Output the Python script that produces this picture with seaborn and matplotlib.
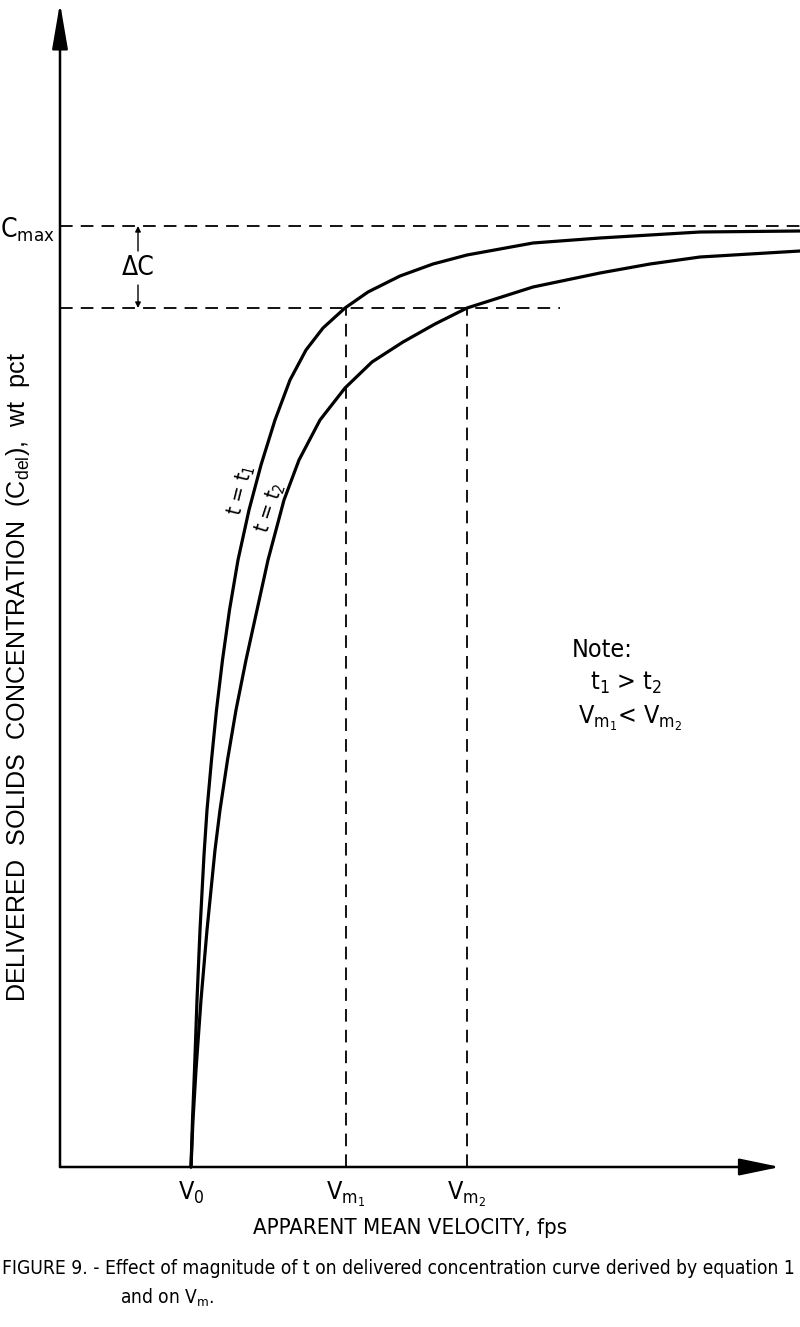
import matplotlib
matplotlib.use("Agg")
import matplotlib.pyplot as plt
from matplotlib import font_manager as fm
import seaborn as sns
import pandas as pd

# ---- data (arbitrary units) ----
curve1_x = [131,132.5,134.5,137,140,144,147,151.5,156.5,162.5,169.5,178,189,201,215,230,246,263,285,308,340,373,407,473,540,640,740]
curve1_y = [0,47,97,167,237,312,357,407,457,507,557,607,657,702,747,787,817,839,859,875,891,903,912,924,929,935,936]
curve2_x = [131,133,136,141,147,155,160,167.5,176,186,197,208,224,239,260,285,312,343,375,407,473,540,590,640,740]
curve2_y = [0,47,97,167,237,317,357,407,457,507,557,607,667,707,747,779,805,825,843,859,880,894,903,910,916]
c_max = 941
c_level = 859
v_ticks = [131, 286, 407]
v_labels = [r'V$_\mathregular{0}$', r'V$_\mathregular{m_1}$', r'V$_\mathregular{m_2}$']

sns.set_theme(style="white")

# pick a narrow face if one is installed
names = {f.name for f in fm.fontManager.ttflist}
cond_names = {f.name for f in fm.fontManager.ttflist
              if str(f.stretch) in ('condensed', 'semi-condensed', 'extra-condensed', 'ultra-condensed')
              or (isinstance(f.stretch, int) and f.stretch < 500)}
if 'Liberation Sans Narrow' in names:
    FAM = 'Liberation Sans Narrow'
elif cond_names:
    pref = [n for n in ('DejaVu Sans', 'Noto Sans', 'Roboto', 'Open Sans', 'Liberation Sans') if n in cond_names]
    FAM = pref[0] if pref else sorted(cond_names)[0]
    plt.rcParams['font.stretch'] = 'condensed'
else:
    FAM = 'Liberation Sans'
plt.rcParams['font.family'] = [FAM, 'DejaVu Sans']
plt.rcParams['mathtext.fontset'] = 'custom'
plt.rcParams['mathtext.rm'] = FAM
plt.rcParams['mathtext.it'] = FAM
plt.rcParams['text.color'] = 'black'

W, H = 800, 1327
fig = plt.figure(figsize=(W/100, H/100), dpi=100)
ax = fig.add_axes([60/W, (H-1167)/H, 740/W, 1167/H])
ax.set_xlim(0, 740)
ax.set_ylim(0, 1167)

df = pd.concat([
    pd.DataFrame({'v': curve1_x, 'c': curve1_y, 't': 't1'}),
    pd.DataFrame({'v': curve2_x, 'c': curve2_y, 't': 't2'}),
])
sns.lineplot(data=df, x='v', y='c', units='t', estimator=None, sort=False,
             color='black', lw=2.3, ax=ax, legend=False, clip_on=False,
             solid_joinstyle='round', solid_capstyle='round')

dash = dict(color='black', lw=1.3, linestyles=(0, (7, 4.5)), clip_on=False)
ax.hlines(c_max, 0, 740, **dash)
ax.hlines(c_level, 0, 500, **dash)
ax.vlines(v_ticks[1:], 0, c_level, **dash)

for s in ax.spines.values():
    s.set_visible(False)
ax.annotate('', xy=(0, 1164), xytext=(0, 0),
            arrowprops=dict(arrowstyle='-|>,head_length=1.4,head_width=0.24', lw=1.8, color='black',
                            mutation_scale=20, shrinkA=0, shrinkB=0), annotation_clip=False)
ax.annotate('', xy=(720, 0), xytext=(0, 0),
            arrowprops=dict(arrowstyle='-|>,head_length=1.25,head_width=0.26', lw=1.8, color='black',
                            mutation_scale=20, shrinkA=0, shrinkB=0), annotation_clip=False)

ax.set_xticks(v_ticks)
ax.set_xticklabels(v_labels, fontsize=18)
ax.set_yticks([c_max])
ax.set_yticklabels([r'C$_\mathregular{max}$'], fontsize=19)
ax.tick_params(length=0, pad=4, colors='black')
ax.tick_params(axis='x', pad=9)
ax.set_xlabel('')
ax.set_ylabel('')

# delta C
ax.text(78, 899, 'ΔC', fontsize=19, ha='center', va='center')
ax.annotate('', xy=(78, c_max), xytext=(78, 916),
            arrowprops=dict(arrowstyle='-|>', lw=1, color='black', mutation_scale=8, shrinkA=0, shrinkB=0))
ax.annotate('', xy=(78, c_level), xytext=(78, 882),
            arrowprops=dict(arrowstyle='-|>', lw=1, color='black', mutation_scale=8, shrinkA=0, shrinkB=0))

ax.text(181, 677, r't = t$_\mathregular{1}$', fontsize=15, rotation=76, ha='center', va='center')
ax.text(210, 659, r't = t$_\mathregular{2}$', fontsize=15, rotation=72, ha='center', va='center')

ax.text(512, 517, 'Note:', fontsize=18, ha='left', va='center')
ax.text(530, 484, r't$_\mathregular{1}$ > t$_\mathregular{2}$', fontsize=18, ha='left', va='center')
ax.text(518, 449, r'V$_\mathregular{m_1}$< V$_\mathregular{m_2}$', fontsize=18, ha='left', va='center')

ylab = fig.text(18/W, 1-677/H, 'DELIVERED  SOLIDS  CONCENTRATION  (C$_{\\mathregular{del}}$),  wt  pct',
                rotation=90, ha='center', va='center', fontsize=13,
                family=['Liberation Sans', 'DejaVu Sans'], fontstretch='normal')
xlab = fig.text(410/W, 1-1228/H, 'APPARENT MEAN VELOCITY, fps', fontsize=18, ha='center', va='center')
cap1 = fig.text(2/W, 1-1268/H, 'FIGURE 9. - Effect of magnitude of t on delivered concentration curve derived by equation 1',
                fontsize=15, ha='left', va='center')
cap2 = fig.text(120/W, 1-1298/H, r'and on V$_\mathregular{m}$.', fontsize=15, ha='left', va='center')

# scale a few long texts to the lengths they have in the reference
renderer = fig.canvas.get_renderer()
def fit(t, target, vertical=False):
    bb = t.get_window_extent(renderer)
    cur = bb.height if vertical else bb.width
    t.set_fontsize(t.get_fontsize() * target / cur)
fit(ylab, 650, vertical=True)
fit(xlab, 314)
fit(cap1, 794)
cap2.set_fontsize(cap1.get_fontsize())

fig.savefig('out.png', dpi=100)
